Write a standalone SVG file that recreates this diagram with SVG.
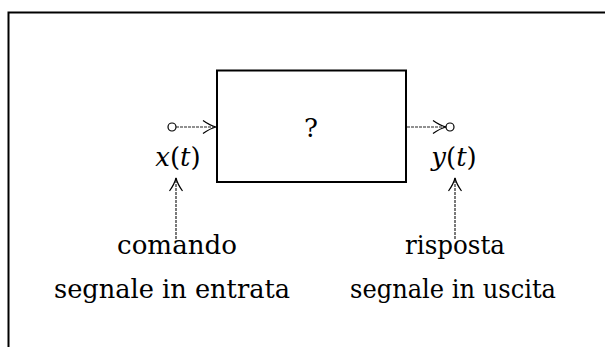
<svg xmlns="http://www.w3.org/2000/svg" width="605" height="347" viewBox="0 0 605 347">
<style>
.t{font-family:'DejaVu Serif','Liberation Serif',serif;font-size:26px;fill:#000;text-anchor:middle}
.m{font-style:italic}
.c{stroke:#222;stroke-width:1.2;fill:none;stroke-dasharray:3 1}
.h{stroke:#000;stroke-width:1.2;fill:none}
.p{fill:#fff;stroke:#000;stroke-width:1.2}
</style>
<defs>
<marker id="ah" markerUnits="userSpaceOnUse" markerWidth="16" markerHeight="16" refX="15" refY="8" orient="auto" overflow="visible">
<path d="M2,1.5 Q9,6.5 15,8 Q9,9.5 2,14.5" class="h"/>
</marker>
</defs>
<rect width="605" height="347" fill="#fff"/>
<path d="M8.5,347 V12.5 H606" fill="none" stroke="#000" stroke-width="2"/>
<g id="system">
<rect x="217" y="70.5" width="189" height="111.5" fill="none" stroke="#000" stroke-width="2"/>
<text class="t" x="311" y="137" font-size="27">?</text>
</g>
<g id="input">
<circle class="p" cx="172" cy="127" r="4"/>
<text class="t" x="178" y="166"><tspan class="m">x</tspan>(<tspan class="m">t</tspan>)</text>
</g>
<g id="output">
<circle class="p" cx="450" cy="127" r="4"/>
<text class="t" x="454" y="166"><tspan class="m">y</tspan>(<tspan class="m">t</tspan>)</text>
</g>
<g id="label-in">
<text class="t" x="177" y="254" textLength="120" lengthAdjust="spacingAndGlyphs">comando</text>
<text class="t" x="172" y="298" textLength="236" lengthAdjust="spacingAndGlyphs">segnale in entrata</text>
</g>
<g id="label-out">
<text class="t" x="455" y="254" textLength="100" lengthAdjust="spacingAndGlyphs">risposta</text>
<text class="t" x="453" y="298" textLength="206" lengthAdjust="spacingAndGlyphs">segnale in uscita</text>
</g>
<g id="connectors">
<line class="c" x1="176" y1="127" x2="216" y2="127" marker-end="url(#ah)"/>
<line class="c" x1="407" y1="127" x2="446" y2="127" marker-end="url(#ah)"/>
<line class="c" x1="176" y1="239" x2="176" y2="178" marker-end="url(#ah)"/>
<line class="c" x1="455" y1="239" x2="455" y2="178" marker-end="url(#ah)"/>
</g>
</svg>
